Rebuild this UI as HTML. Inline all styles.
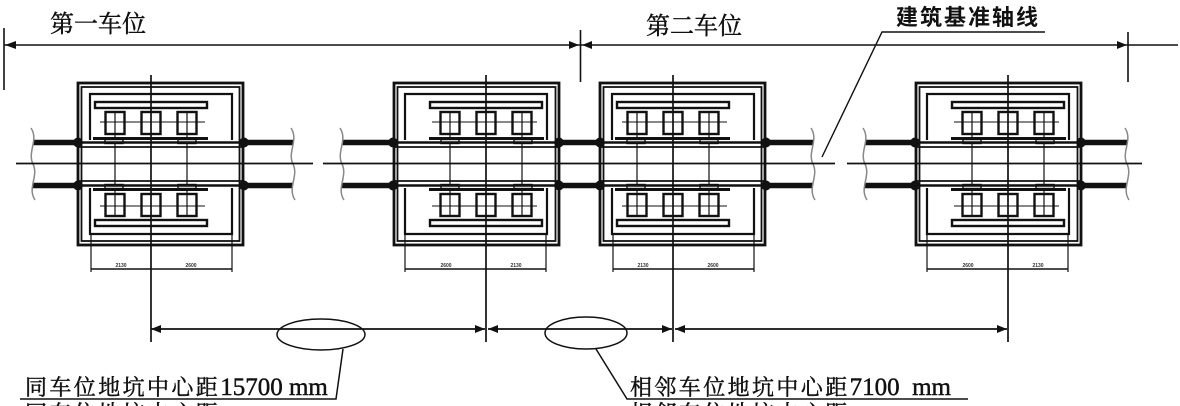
<!DOCTYPE html>
<html>
<head>
<meta charset="utf-8">
<style>
html,body{margin:0;padding:0;background:#fff;}
svg{display:block;}
</style>
</head>
<body>
<svg width="1180" height="406" viewBox="0 0 1180 406" xmlns="http://www.w3.org/2000/svg">
<defs>
  <g id="half" stroke="#111">
    <path d="M-61,140 V94 H81 V140" fill="none" stroke-width="2.2"/>
    <rect x="-56" y="102" width="112" height="6" fill="#fff" stroke-width="2.4"/>
    <line x1="-51" y1="122" x2="54" y2="122" stroke-width="1.1"/>
    <line x1="-36" y1="112" x2="-36" y2="164" stroke-width="1.2"/>
    <line x1="36" y1="112" x2="36" y2="164" stroke-width="1.2"/>
    <rect x="-45.5" y="112" width="19" height="22" fill="none" stroke-width="2.4"/>
    <rect x="-9.5" y="112" width="19" height="22" fill="none" stroke-width="2.4"/>
    <rect x="26.5" y="112" width="19" height="22" fill="none" stroke-width="2.4"/>
    <line x1="-58" y1="138.5" x2="57" y2="138.5" stroke-width="3"/>
    <rect x="-46" y="139.5" width="18" height="4" fill="#fff" stroke-width="1.4"/>
    <rect x="27" y="139.5" width="18" height="4" fill="#fff" stroke-width="1.4"/>
    <line x1="-73" y1="142.5" x2="92" y2="142.5" stroke-width="2.4"/>
    <line x1="-73" y1="147" x2="92" y2="147" stroke-width="1.7"/>
    <ellipse cx="-73" cy="142.5" rx="4.8" ry="5" fill="#111" stroke="none"/>
    <ellipse cx="93" cy="142.5" rx="4.8" ry="5" fill="#111" stroke="none"/>
  </g>
  <g id="unitA" stroke="#111">
    <rect x="-73" y="83" width="165" height="162" fill="#fff" stroke-width="2.8"/>
    <rect x="-69.5" y="87" width="158" height="154" fill="none" stroke-width="1.8"/>
    <use href="#half"/>
    <use href="#half" transform="translate(0,328) scale(1,-1)"/>
    <line x1="-60" y1="235" x2="-60" y2="272" stroke-width="1.2"/>
    <line x1="81" y1="235" x2="81" y2="272" stroke-width="1.2"/>
    <line x1="-60" y1="269" x2="81" y2="269" stroke-width="1.4"/>
  </g>
</defs>

<!-- rails -->
<g stroke="#111" stroke-width="5.5">
  <line x1="33" y1="142.5" x2="293" y2="142.5"/>
  <line x1="33" y1="185.5" x2="293" y2="185.5"/>
  <line x1="342" y1="142.5" x2="813" y2="142.5"/>
  <line x1="342" y1="185.5" x2="813" y2="185.5"/>
  <line x1="865" y1="142.5" x2="1127" y2="142.5"/>
  <line x1="865" y1="185.5" x2="1127" y2="185.5"/>
</g>
<!-- break lines -->
<g stroke="#888" stroke-width="1.5" fill="none">
  <path d="M31,128 C39,140 27,152 33,164 C39,176 27,188 35,200"/>
  <path d="M291,128 C299,140 287,152 293,164 C299,176 287,188 295,200"/>
  <path d="M340,128 C348,140 336,152 342,164 C348,176 336,188 344,200"/>
  <path d="M811,128 C819,140 807,152 813,164 C819,176 807,188 815,200"/>
  <path d="M863,128 C871,140 859,152 865,164 C871,176 859,188 867,200"/>
  <path d="M1125,128 C1133,140 1121,152 1127,164 C1133,176 1121,188 1129,200"/>
</g>

<!-- units -->
<use href="#unitA" transform="translate(151,0)"/>
<use href="#unitA" transform="translate(486,0) scale(-1,1)"/>
<use href="#unitA" transform="translate(673,0)"/>
<use href="#unitA" transform="translate(1008,0) scale(-1,1)"/>

<!-- tiny dimension labels -->
<g font-family="Liberation Sans, sans-serif" font-size="5" font-weight="bold" fill="#333" text-anchor="middle">
  <text x="121" y="267">2130</text><text x="191" y="267">2600</text>
  <text x="446" y="267">2600</text><text x="516" y="267">2130</text>
  <text x="643" y="267">2130</text><text x="713" y="267">2600</text>
  <text x="968" y="267">2600</text><text x="1038" y="267">2130</text>
</g>

<!-- center lines -->
<g stroke="#111" stroke-width="1.7">
  <line x1="16" y1="163.5" x2="313" y2="163.5"/>
  <line x1="323" y1="163.5" x2="835" y2="163.5"/>
  <line x1="847" y1="163.5" x2="1142" y2="163.5"/>
  <line x1="151" y1="75" x2="151" y2="342"/>
  <line x1="486" y1="75" x2="486" y2="342"/>
  <line x1="673" y1="75" x2="673" y2="342"/>
  <line x1="1008" y1="75" x2="1008" y2="342"/>
</g>

<!-- top dimension -->
<g stroke="#111" stroke-width="1.6">
  <line x1="4" y1="45" x2="1178" y2="45"/>
  <line x1="4" y1="28" x2="4" y2="90"/>
  <line x1="580.5" y1="30" x2="580.5" y2="82"/>
  <line x1="1128" y1="32" x2="1128" y2="82"/>
</g>
<g fill="#111">
  <polygon points="5,45 16,41 16,49"/>
  <polygon points="579,45 569,41 569,49"/>
  <polygon points="582,45 592,41 592,49"/>
  <polygon points="1127,45 1117,41 1117,49"/>
</g>

<!-- reference axis label leader -->
<g stroke="#111" stroke-width="1.4" fill="none">
  <polyline points="822,157 882,32 1045,32"/>
</g>

<!-- bottom dimensions -->
<g stroke="#111" stroke-width="1.7">
  <line x1="151" y1="329" x2="485" y2="329"/>
  <line x1="488" y1="329" x2="672" y2="329"/>
  <line x1="675" y1="329" x2="1007" y2="329"/>
</g>
<g fill="#111">
  <polygon points="151,329 161,325 161,333"/>
  <polygon points="485,329 475,325 475,333"/>
  <polygon points="488,329 498,325 498,333"/>
  <polygon points="672,329 662,325 662,333"/>
  <polygon points="675,329 685,325 685,333"/>
  <polygon points="1007,329 997,325 997,333"/>
</g>
<g stroke="#111" stroke-width="1.5" fill="none">
  <ellipse cx="321" cy="334.5" rx="44" ry="15.5"/>
  <ellipse cx="586" cy="333" rx="41" ry="16"/>
  <polyline points="343,349 336,399 20,399"/>
  <polyline points="596,349 627,399 968,399"/>
</g>

<!-- labels -->
<g font-family="Liberation Serif, 'Noto Serif CJK SC', serif" fill="#111" stroke="#111" stroke-width="0.45">
  <text x="50" y="32" font-size="24">第一车位</text>
  <text x="646" y="34" font-size="24">第二车位</text>
  <text x="25" y="395"><tspan font-size="22" letter-spacing="2.4">同车位地坑中心距</tspan><tspan font-size="25">15700 mm</tspan></text>
  <text x="630" y="395"><tspan font-size="22" letter-spacing="2.4">相邻车位地坑中心距</tspan><tspan font-size="25">7100&#160; mm</tspan></text>
  <text x="25" y="421" font-size="22" letter-spacing="2.4">同车位地坑中心距</text>
  <text x="630" y="421" font-size="22" letter-spacing="2.4">相邻车位地坑中心距</text>
</g>
<text x="896" y="25" font-family="Liberation Sans, 'Noto Sans CJK SC', sans-serif" font-size="22" font-weight="bold" letter-spacing="2" fill="#111">建筑基准轴线</text>
</svg>
</body>
</html>
